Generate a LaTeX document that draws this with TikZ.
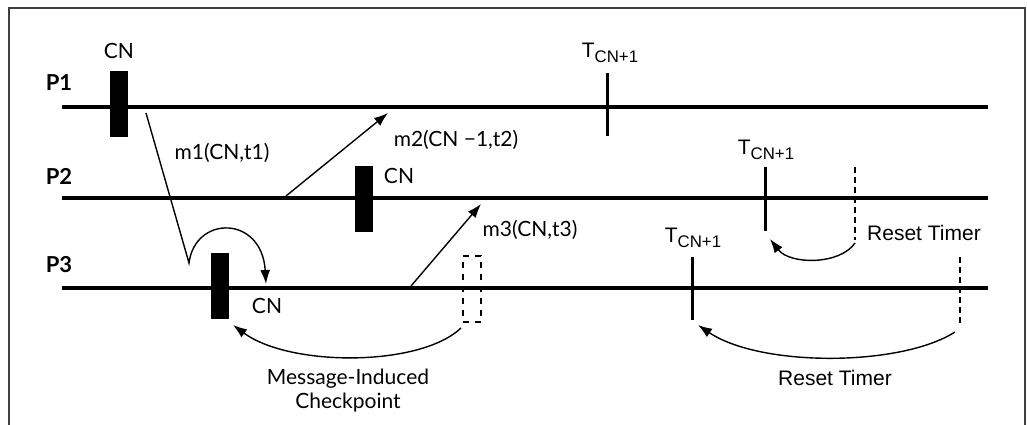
\documentclass[tikz,border=0pt]{standalone}
\usepackage{fontspec}
\setmainfont{Lato}
\newfontfamily\arialfont{Liberation Sans}
\usetikzlibrary{arrows.meta}

\newcommand{\tcn}{{\arialfont\fontsize{10.5}{12}\selectfont T\raisebox{-0.45ex}{\fontsize{8.4}{9}\selectfont CN+1}}}

\tikzset{
  procline/.style={line width=2.3pt},
  ckpt/.style={fill=black,minimum width=9pt,minimum height=33pt,inner sep=0pt},
  ghost/.style={draw,dashed,line width=0.8pt,minimum width=9pt,minimum height=33pt,inner sep=0pt},
  tick/.style={line width=1.5pt},
  msg/.style={line width=0.7pt,-{Latex[length=7pt,width=5pt]}},
  timer/.style={line width=0.9pt,dash pattern=on 3pt off 2pt},
  lbl/.style={font=\fontsize{10.5}{12}\selectfont,inner sep=0pt},
  rst/.style={font=\arialfont\fontsize{10.5}{12}\selectfont,inner sep=0pt}
}

\begin{document}
\begin{tikzpicture}[x=0.5pt,y=-0.5pt,>=Latex]
\useasboundingbox (0,0) rectangle (1027,424);
\draw[black!75,line width=0.7pt] (9,440) -- (9,8) -- (1025,8) -- (1025,440);

\node[lbl,font=\bfseries\fontsize{11}{12}\selectfont] (p1) at (59,83) {P1};
\node[lbl,font=\bfseries\fontsize{11}{12}\selectfont] (p2) at (59,176) {P2};
\node[lbl,font=\bfseries\fontsize{11}{12}\selectfont] (p3) at (59,265) {P3};
\draw[procline] (62,107) -- (988,107);
\draw[procline] (62,198) -- (988,198);
\draw[procline] (62,288) -- (988,288);

\node[ckpt] (c1) at (119,104) {};
\node[ckpt] (c2) at (364,199) {};
\node[ckpt] (c3) at (220,286) {};
\node[ghost] (g3) at (472,289) {};
\node[lbl] (cn1) at (119,51) {CN};
\node[lbl] (cn2) at (399,176) {CN};
\node[lbl] (cn3) at (267,306) {CN};

\draw[tick] (607,73) -- (607,136);
\draw[tick] (765,167) -- (765,231);
\draw[tick] (692,257) -- (692,320);
\node[inner sep=0pt] (t1) at (610,53) {\tcn};
\node[inner sep=0pt] (t2) at (766,150) {\tcn};
\node[inner sep=0pt] (t3) at (693,238) {\tcn};
\draw[timer] (855,167) -- (855,240);
\draw[timer] (960,257) -- (960,325);

\coordinate (m1s) at (146,113);
\coordinate (m1k) at (189,263);
\coordinate (m1e) at (266,284);
\draw[msg] (m1s) -- (m1k) .. controls (195,215) and (262,215) .. (m1e);
\node[lbl] (m1) at (222,153) {m1(CN,t1)};

\coordinate (m2s) at (286,196);
\coordinate (m2e) at (388,113);
\draw[msg] (m2s) -- (m2e);
\node[lbl] (m2) at (456,140) {m2(CN −1,t2)};

\coordinate (m3s) at (411,286);
\coordinate (m3e) at (481,204);
\draw[msg] (m3s) -- (m3e);
\node[lbl] (m3) at (530,230) {m3(CN,t3)};

\coordinate (mic) at (461,328);
\coordinate (mice) at (233,325);
\draw[msg] (mic) .. controls (420,367) and (290,367) .. (mice);
\node[lbl,align=center] (micl) at (348,391) {Message-Induced\\Checkpoint};

\coordinate (r2s) at (855,243);
\coordinate (r2e) at (770,239);
\draw[msg] (r2s) .. controls (840,265) and (790,265) .. (r2e);
\node[rst] (r2) at (924,233) {Reset Timer};

\coordinate (r3s) at (955,332);
\coordinate (r3e) at (698,325);
\draw[msg] (r3s) .. controls (900,367) and (760,367) .. (r3e);
\node[rst] (r3) at (835,378) {Reset Timer};
\end{tikzpicture}
\end{document}
